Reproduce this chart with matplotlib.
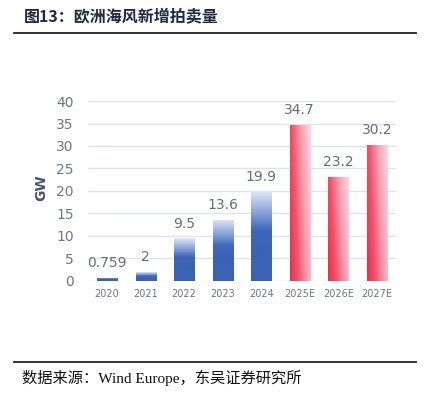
import numpy as np
import matplotlib
matplotlib.use("Agg")
import matplotlib.pyplot as plt
from matplotlib.colors import LinearSegmentedColormap

categories = ["2020", "2021", "2022", "2023", "2024", "2025E", "2026E", "2027E"]
values = [0.759, 2, 9.5, 13.6, 19.9, 34.7, 23.2, 30.2]
labels = ["0.759", "2", "9.5", "13.6", "19.9", "34.7", "23.2", "30.2"]
is_forecast = [False, False, False, False, False, True, True, True]
yticks = [0, 5, 10, 15, 20, 25, 30, 35, 40]

plt.rcParams['font.family'] = ['DejaVu Sans', 'Noto Sans CJK SC']

fig = plt.figure(figsize=(4.25, 3.93), dpi=100)
ax = fig.add_axes([0.2064, 0.285, 0.7256, 0.458])

x = np.arange(len(categories))
bars = ax.bar(x, values, width=0.52, color="none", edgecolor="none", zorder=3)

blue_cmap = LinearSegmentedColormap.from_list("b", ["#3a62b5", "#3f68ba", "#8fa8da", "#dde6f6"])
red_cmap = LinearSegmentedColormap.from_list("r", ["#ec2c46", "#f25570", "#f8a0b1", "#fdd3dc"])

for b, fc in zip(bars, is_forecast):
    x0, y0 = b.get_x(), b.get_y()
    w, h = b.get_width(), b.get_height()
    if fc:
        gx = np.linspace(0, 1, 64)[None, :]
        gy = np.linspace(0, 1, 64)[:, None]
        grad = np.clip(0.8 * gx + 0.25 * gy, 0, 1)
        cmap = red_cmap
    else:
        gy = np.linspace(0, 1, 64)[:, None]
        grad = np.clip((gy - 0.35) / 0.65, 0, 1) * np.ones((1, 4))
        cmap = blue_cmap
    im = ax.imshow(grad, extent=[x0, x0 + w, y0, y0 + h], origin="lower",
                   cmap=cmap, vmin=0, vmax=1, aspect="auto", zorder=3,
                   interpolation="bilinear")
    im.set_clip_path(b)

for xi, v, lab in zip(x, values, labels):
    ax.text(xi, v + 1.7, lab, ha="center", va="bottom", fontsize=10,
            color="#666d7c", zorder=4)

ax.set_xlim(-0.5, len(categories) - 0.5)
ax.set_ylim(0, 40)
ax.set_yticks(yticks)
ax.set_yticklabels([str(t) for t in yticks], fontsize=10, color="#6f7684")
ax.set_xticks(x)
ax.set_xticklabels(categories, fontsize=7, color="#6f7684")
ax.tick_params(axis="both", length=0)
ax.tick_params(axis="y", pad=10)
ax.tick_params(axis="x", pad=6)
ax.grid(axis="y", color="#dfe3ec", linewidth=1.0, zorder=0)
for s in ax.spines.values():
    s.set_visible(False)
ax.set_ylabel("GW", fontsize=10, fontweight="bold", color="#4a5568")
ax.yaxis.set_label_coords(-0.128, 0.52)

# Title and decorations
fig.text(24 / 425, 1 - 17 / 393, "图13：欧洲海风新增拍卖量", fontsize=11.5, fontweight="bold",
         color="#1f2a44", ha="left", va="center",
         family=["Noto Sans CJK SC"])
fig.add_artist(plt.Line2D([14 / 425, 416 / 425], [1 - 33 / 393, 1 - 33 / 393],
                          color="#222222", linewidth=1.3))
fig.add_artist(plt.Line2D([14 / 425, 416 / 425], [1 - 362 / 393, 1 - 362 / 393],
                          color="#222222", linewidth=1.3))
fig.text(22 / 425, 1 - 378 / 393, "数据来源：Wind Europe，东吴证券研究所", fontsize=11,
         color="#111111", ha="left", va="center",
         family=["Liberation Serif", "Noto Sans CJK SC"])

fig.savefig("out.png", dpi=100)
